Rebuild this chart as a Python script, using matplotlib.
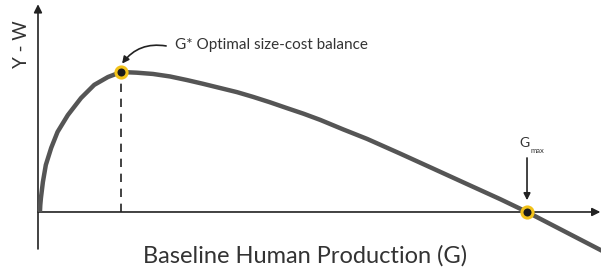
import matplotlib
matplotlib.use("Agg")
import matplotlib.pyplot as plt

# Curve (G in arbitrary units, Y-W in arbitrary units)
G_vals = [0.04, 0.047, 0.06, 0.10, 0.16, 0.27, 0.40, 0.61, 0.88, 1.15, 1.43, 1.70,
          2.02, 2.35, 2.70, 3.05, 3.37, 3.72, 4.07, 4.40, 4.74, 5.09, 5.43,
          5.77, 6.24, 6.73, 7.40, 8.08, 8.77, 9.45, 10.0, 11.55]
YW_vals = [0.00, 0.25, 0.50, 1.07, 1.68, 2.29, 2.86, 3.46, 4.07, 4.54, 4.82, 5.00,
           4.975, 4.93, 4.84, 4.71, 4.58, 4.43, 4.28, 4.11, 3.92, 3.71, 3.51,
           3.29, 2.95, 2.61, 2.09, 1.55, 1.00, 0.46, 0.00, -1.40]
G_star, YW_star = 1.70, 5.00
G_max, YW_max = 10.0, 0.0

x_label = "Baseline Human Production (G)"
y_label = "Y - W"
star_label = "G* Optimal size-cost balance"

plt.rcParams['font.family'] = ['Lato', 'DejaVu Sans']

fig = plt.figure(figsize=(6.01, 2.69), dpi=100)
ax = fig.add_axes([0, 0, 1, 1])
ax.set_xlim(-0.777, 11.513)
ax.set_ylim(-2.036, 7.571)
ax.axis('off')

axis_col = '#222222'
txt_col = '#333333'
# axes with arrows
ax.annotate('', xy=(0, 7.42), xytext=(0, -1.32),
            arrowprops=dict(arrowstyle='-|>', lw=1.2, color=axis_col,
                            mutation_scale=12, shrinkA=0, shrinkB=0))
ax.annotate('', xy=(11.50, 0), xytext=(0, 0),
            arrowprops=dict(arrowstyle='-|>', lw=1.2, color=axis_col,
                            mutation_scale=12, shrinkA=0, shrinkB=0))

# dashed line at optimum
ax.plot([G_star, G_star], [0, YW_star], ls=(0, (5, 4)), color=axis_col, lw=1.2, zorder=2)

# curve
ax.plot(G_vals, YW_vals, color='#555555', lw=3.2, solid_capstyle='butt',
        solid_joinstyle='round', zorder=3)

# markers
for gx, gy in [(G_star, YW_star), (G_max, YW_max)]:
    ax.plot(gx, gy, 'o', ms=8, mfc='#1a1a1a', mec='#f2c21a', mew=2.2, zorder=5)

# G* annotation
ax.annotate('', xy=(G_star + 0.02, 5.30), xytext=(2.62, 5.93),
            arrowprops=dict(arrowstyle='-|>', lw=1.2, color=axis_col,
                            mutation_scale=10, shrinkA=0, shrinkB=0,
                            connectionstyle='arc3,rad=0.3'))
ax.text(2.80, 5.98, star_label, fontsize=11, color=txt_col, va='center', ha='left')

# Gmax annotation
ax.annotate('', xy=(G_max, 0.42), xytext=(G_max, 1.93),
            arrowprops=dict(arrowstyle='-|>', lw=1.2, color=axis_col,
                            mutation_scale=10, shrinkA=0, shrinkB=0))
ax.text(G_max + 0.06, 2.46, 'G', fontsize=10, color=txt_col, ha='right', va='center')
ax.text(G_max + 0.08, 2.20, 'max', fontsize=5.5, color=txt_col, ha='left', va='center')

# axis labels
ax.text(5.46, -1.79, x_label, fontsize=17, color=txt_col, ha='center', va='baseline')
ax.text(-0.33, 6.0, y_label, fontsize=13.5, color=txt_col, ha='center', va='center',
        rotation=90)

fig.savefig('out.png', dpi=100)
